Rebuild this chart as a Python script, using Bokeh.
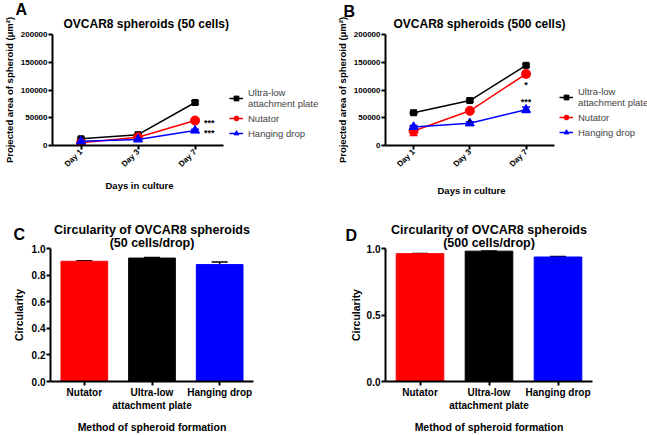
import math
from bokeh.plotting import figure
from bokeh.models import (ColumnDataSource, Whisker, TeeHead, Legend, LegendItem, Title,
                          FactorRange, Range1d, FixedTicker, BasicTickFormatter,
                          PrintfTickFormatter)
from bokeh.layouts import row, column
from bokeh.embed import file_html
from bokeh.resources import INLINE
from bokeh.core.properties import value

FONT = "Liberation Sans"

# ---------------- data ----------------
days = ["Day 1", "Day 3", "Day 7"]
series_names = ["Ultra-low\nattachment plate", "Nutator", "Hanging drop"]
series_colors = ["black", "#ff0000", "#0000ff"]
series_markers = ["square", "circle", "triangle"]
series_sizes = [6, 9, 9]

# Panel A: 50 cells
a_ultra = [12000, 19500, 77500]
a_ultra_err = [1500, 1500, 2500]
a_nutator = [5000, 15000, 45000]
a_nutator_err = [1000, 1500, 3500]
a_hanging = [7500, 11000, 27000]
a_hanging_err = [1000, 1500, 2500]
a_sig_day = [2, 2]          # index into days (Day 7)
a_sig_y = [a_nutator[2], a_hanging[2]]
a_sig_text = ["***", "***"]

# Panel B: 500 cells
b_ultra = [59000, 81000, 144500]
b_ultra_err = [1500, 2000, 2500]
b_nutator = [26000, 62500, 129000]
b_nutator_err = [8000, 3000, 5000]
b_hanging = [33500, 40000, 64500]
b_hanging_err = [2500, 3000, 5000]
b_sig_day = [1, 2, 2]       # Day 3, Day 7, Day 7
b_sig_y = [b_nutator[1], b_nutator[2], b_hanging[2]]
b_sig_text = ["*", "*", "***"]

area_ticks = [0, 50000, 100000, 150000, 200000]

# Panels C / D: circularity
methods = ["Nutator", "Ultra-low\nattachment plate", "Hanging drop"]
bar_colors = ["#ff0000", "black", "#0000ff"]
c_vals = [0.904, 0.928, 0.879]
c_err = [0.004, 0.004, 0.019]
d_vals = [0.961, 0.980, 0.936]
d_err = [0.002, 0.002, 0.003]
c_ticks = [0.0, 0.2, 0.4, 0.6, 0.8, 1.0]
d_ticks = [0.0, 0.5, 1.0]


def style_axes(p, tick_size, label_size):
    for ax in p.axis:
        ax.axis_line_width = 2
        ax.axis_line_color = "black"
        ax.major_tick_line_width = 2
        ax.major_tick_line_color = "black"
        ax.major_tick_in = 0
        ax.major_tick_out = 4
        ax.minor_tick_line_color = None
        ax.major_label_text_font = FONT
        ax.major_label_text_font_style = "bold"
        ax.major_label_text_font_size = tick_size
        ax.major_label_text_color = "black"
        ax.major_label_standoff = 1
        ax.axis_label_text_font = FONT
        ax.axis_label_text_font_style = "bold"
        ax.axis_label_text_font_size = label_size
        ax.axis_label_text_color = "black"


def style_title(t, size, align="center", offset=0, standoff=0):
    t.align = align
    t.offset = offset
    t.standoff = standoff
    t.text_font = FONT
    t.text_font_size = size
    t.text_font_style = "bold"
    t.text_color = "black"


def letter_title(text, offset, standoff):
    t = Title(text=text)
    style_title(t, "16px", "left", offset, standoff)
    return t


def line_panel(width, borders, x_end, title, title_off, xlab_off, xlab_stand, let, let_off,
               let_stand, data, sig, legend_loc):
    left, right, top, bottom = borders
    p = figure(width=width, height=208, x_range=Range1d(-0.5, x_end),
               y_range=Range1d(0, 200000), output_backend="svg", toolbar_location=None,
               min_border_left=left, min_border_right=right, min_border_top=top,
               min_border_bottom=bottom)
    p.grid.visible = False
    p.outline_line_color = None
    # panel letter (outermost), then the chart title (closest to the frame)
    p.title.text = let
    style_title(p.title, "16px", "left", let_off, let_stand)
    t = Title(text=title)
    style_title(t, "12px", "left", title_off, 8)
    p.add_layout(t, "above")

    xpos = list(range(len(days)))
    p.xaxis.ticker = FixedTicker(ticks=xpos)
    p.xaxis.major_label_overrides = {i: d for i, d in zip(xpos, days)}
    p.xaxis.bounds = (-0.5, len(days) - 0.5)
    p.yaxis.ticker = FixedTicker(ticks=area_ticks)
    p.yaxis.formatter = BasicTickFormatter(use_scientific=False)
    p.yaxis.axis_label = "Projected area of spheroid (μm²)"
    p.xaxis.major_label_orientation = math.pi / 4
    style_axes(p, "8px", "9.5px")
    p.yaxis.axis_label_standoff = 3
    xt = Title(text="Days in culture")
    style_title(xt, "9.5px", "left", xlab_off, xlab_stand)
    p.add_layout(xt, "below")

    items = []
    for name, (vals, errs), color, mk, sz in zip(series_names, data, series_colors,
                                                  series_markers, series_sizes):
        src = ColumnDataSource(dict(x=xpos, y=vals,
                                    upper=[v + e for v, e in zip(vals, errs)],
                                    lower=[v - e for v, e in zip(vals, errs)]))
        p.add_layout(Whisker(source=src, base="x", upper="upper", lower="lower",
                             line_color=color, line_width=1.5,
                             upper_head=TeeHead(size=8, line_color=color, line_width=1.5),
                             lower_head=TeeHead(size=8, line_color=color, line_width=1.5)))
        l = p.line("x", "y", source=src, line_color=color, line_width=1.5)
        m = p.scatter("x", "y", source=src, marker=mk, size=sz, fill_color=color,
                      line_color=color)
        items.append(LegendItem(label=name, renderers=[l, m]))

    sx, sy, st, sxo, syo, salign = sig
    ssrc = ColumnDataSource(dict(x=sx, y=sy, t=st, xo=sxo, yo=syo))
    p.text("x", "y", text="t", source=ssrc, x_offset="xo", y_offset="yo",
           text_font=value(FONT), text_font_size="9px", text_font_style="bold",
           text_align=salign, text_baseline="middle", text_color="black")

    leg = Legend(items=items, location=legend_loc, orientation="vertical")
    leg.label_text_font = FONT
    leg.label_text_font_size = "9.5px"
    leg.glyph_width = 14
    leg.glyph_height = 12
    leg.label_height = 12
    leg.label_standoff = 5
    leg.spacing = 3
    leg.padding = 0
    leg.margin = 0
    leg.border_line_color = None
    leg.background_fill_alpha = 0
    p.add_layout(leg)
    return p


def bar_panel(width, borders, title1, title2, let, let_off, let_stand, t1_stand, t2_stand,
              vals, errs, ticks, ystand):
    left, right, top, bottom = borders
    p = figure(width=width, height=227, x_range=FactorRange(factors=methods),
               y_range=Range1d(0, 1.0), output_backend="svg", toolbar_location=None,
               min_border_left=left, min_border_right=right, min_border_top=top,
               min_border_bottom=bottom)
    p.grid.visible = False
    p.outline_line_color = None
    # order from the frame outward: second title line, panel letter, first title line
    p.title.text = title1
    style_title(p.title, "12.5px", standoff=t1_stand)
    t2 = Title(text=title2)
    style_title(t2, "12.5px", standoff=t2_stand)
    p.add_layout(t2, "above")
    p.add_layout(letter_title(let, let_off, let_stand), "above")

    src = ColumnDataSource(dict(x=methods, y=vals, c=bar_colors,
                                upper=[v + e for v, e in zip(vals, errs)]))
    p.vbar(x="x", top="y", width=0.69, source=src, fill_color="c", line_color="c")
    p.add_layout(Whisker(source=src, base="x", upper="upper", lower="y",
                         line_color="black", line_width=1.5, lower_head=None,
                         upper_head=TeeHead(size=16, line_width=1.5, line_color="black")))
    p.yaxis.ticker = FixedTicker(ticks=ticks)
    p.yaxis.formatter = PrintfTickFormatter(format="%.1f")
    p.yaxis.axis_label = "Circularity"
    p.xaxis.axis_label = "Method of spheroid formation"
    style_axes(p, "10px", "10.5px")
    p.yaxis.axis_label_standoff = ystand
    p.xaxis.axis_label_standoff = 7
    return p


pA = line_panel(320, (50, 0, 34, 61), 4.2, "OVCAR8 spheroids (50 cells)", 11, 53, 6,
                "A", -37, -14,
                [(a_ultra, a_ultra_err), (a_nutator, a_nutator_err), (a_hanging, a_hanging_err)],
                (a_sig_day, a_sig_y, a_sig_text, [9, 9], [2, 2], "left"), (177, 6))
pB = line_panel(327, (65, 0, 34, 63), 4.16, "OVCAR8 spheroids (500 cells)", 8, 52, 16,
                "B", -42, -19,
                [(b_ultra, b_ultra_err), (b_nutator, b_nutator_err), (b_hanging, b_hanging_err)],
                (b_sig_day, b_sig_y, b_sig_text, [0, 0, 0], [11, 11, -8], "center"), (174, 7))
pC = bar_panel(320, (50, 67, 40, 52), "Circularity of OVCAR8 spheroids", "(50 cells/drop)",
               "C", -37, -17, -9, -2, c_vals, c_err, c_ticks, 4)
pD = bar_panel(327, (65, 55, 40, 52), "Circularity of OVCAR8 spheroids", "(500 cells/drop)",
               "D", -40, -19, -5, -2, d_vals, d_err, d_ticks, 2)

layout = column(row(pA, pB), row(pC, pD))
open("out.html", "w").write(file_html(layout, INLINE))
